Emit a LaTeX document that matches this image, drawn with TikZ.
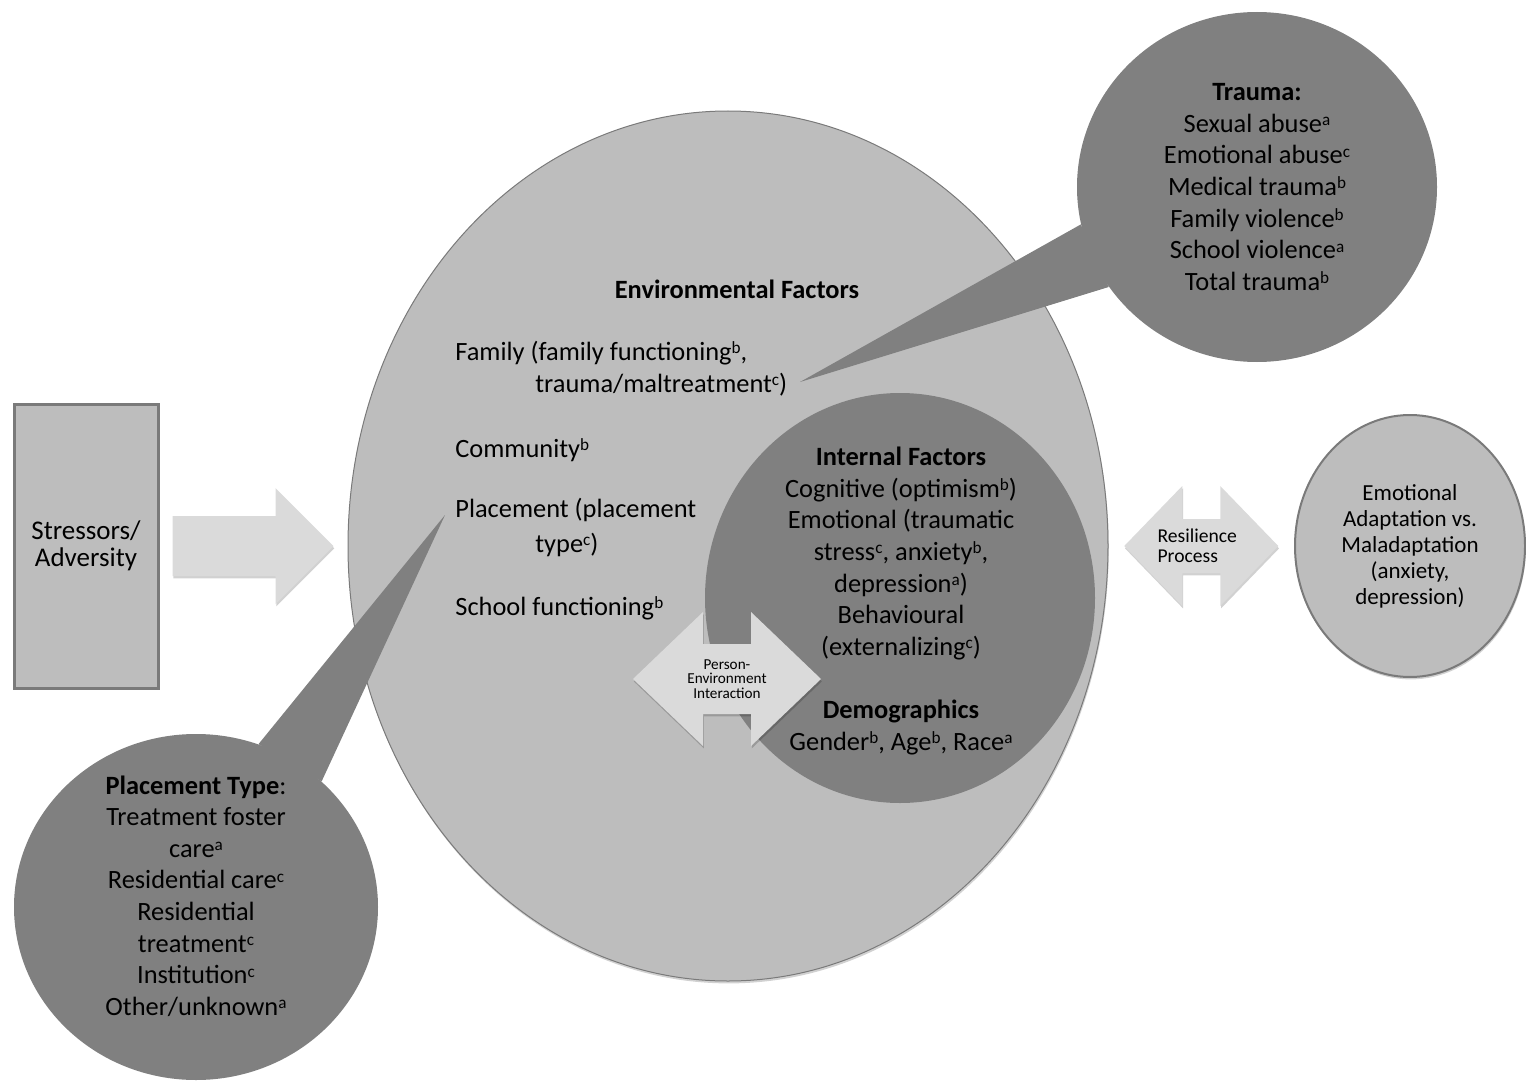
\documentclass[tikz,border=0pt]{standalone}
\usepackage{fontspec}
\setmainfont{Carlito}
\usepackage{graphicx}
\usepackage{tikz}
\usetikzlibrary{calc,positioning,shapes,shadows}
\definecolor{envgray}{RGB}{189,189,189}
\definecolor{deepgray}{RGB}{128,128,128}
\definecolor{arrowgray}{RGB}{218,218,218}
\definecolor{rimgray}{RGB}{122,122,122}
\newcommand\tsup[1]{\raisebox{0.25em}{\scalebox{0.65}{#1}}}

\begin{document}
\begin{tikzpicture}[% one unit = one pixel of the figure, y runs down
					x=0.5pt, y=-0.5pt,
					every node/.style={
						align=center,  		% so that "\\" breaks the lines
						inner sep=0pt,
						font=\fontsize{13.2pt}{15.8pt}\selectfont
						},
					softshadow/.style={drop shadow={shadow xshift=0.4pt, shadow yshift=-1.2pt, opacity=0.18, fill=black}},
					blob/.style={ellipse, fill=envgray, draw=rimgray},
					bubble/.style={ellipse, fill=deepgray},
					blockarrow/.style={fill=arrowgray, softshadow},
					item/.style={anchor=base west}
					]
\useasboundingbox (0,0) rectangle (1526,1081);

% left box and the big environment ellipse
\node[rectangle, fill=envgray, draw=rimgray, line width=1.5pt, minimum width=72pt, minimum height=142pt, softshadow, font=\fontsize{13.5pt}{13.5pt}\selectfont](stress) at (86,546){Stressors/\\Adversity};
\node[blob, line width=0.5pt, minimum width=380pt, minimum height=435pt, softshadow](env) at (728,546){};

% callout bubbles
\node[bubble, minimum width=180pt, minimum height=175pt](trauma) at (1257,187){\textbf{Trauma:}\\Sexual abuse\tsup{a}\\Emotional abuse\tsup{c}\\Medical trauma\tsup{b}\\Family violence\tsup{b}\\School violence\tsup{a}\\Total trauma\tsup{b}};
\node[bubble, minimum width=182pt, minimum height=173pt](place) at (196,907){};
\coordinate (traumatip) at (800,382);
\coordinate (placetip) at (445,515);
\fill[deepgray] (trauma.192) -- (traumatip) -- (trauma.214) -- cycle;
\fill[deepgray] (place.69) -- (placetip) -- (place.45) -- cycle;
\node(placetext) at (196,896){\textbf{Placement Type}:\\Treatment foster\\care\tsup{a}\\Residential care\tsup{c}\\Residential\\treatment\tsup{c}\\Institution\tsup{c}\\Other/unknown\tsup{a}};

% inner circle
\node[bubble, minimum width=195pt, minimum height=205pt](internal) at (900,598){};
\node(internaltext) at (901,601){\textbf{Internal Factors}\\Cognitive (optimism\tsup{b})\\Emotional (traumatic\\stress\tsup{c}, anxiety\tsup{b},\\depression\tsup{a})\\Behavioural\\(externalizing\tsup{c})\\[15.8pt]\textbf{Demographics}\\Gender\tsup{b}, Age\tsup{b}, Race\tsup{a}};

% environment items
\node[anchor=base](envtitle) at (737,298){\textbf{Environmental Factors}};
\node[item](family) at (455,360){Family (family functioning\tsup{b},};
\node[item](family2) at (535,392){trauma/maltreatment\tsup{c})};
\node[item](community) at (455,457){Community\tsup{b}};
\node[item](placement) at (455,517){Placement (placement};
\node[item](placement2) at (535,552){type\tsup{c})};
\node[item](school) at (455,615){School functioning\tsup{b}};

% outcome
\node[blob, line width=1pt, minimum width=115pt, minimum height=131pt, softshadow, font=\fontsize{11.5pt}{13pt}\selectfont](outcome) at (1410,546){Emotional\\Adaptation vs.\\Maladaptation\\(anxiety,\\depression)};

% block arrows
\coordinate (push) at ($(stress.east)!0.5!(env.west)$);
\coordinate (resil) at ($(env.east)!0.5!(outcome.west)$);
\coordinate (pe) at (727,679);
\fill[blockarrow, shift={(push)}] (-81,-30) -- (22,-30) -- (22,-58) -- (80,0) -- (22,58) -- (22,30) -- (-81,30) -- cycle;
\fill[blockarrow, shift={(resil)}] (-77,0) -- (-19,-60) -- (-19,-27) -- (19,-27) -- (19,-60) -- (77,0) -- (19,60) -- (19,27) -- (-19,27) -- (-19,60) -- cycle;
\fill[blockarrow, shift={(pe)}] (-94,0) -- (-24,-67) -- (-24,-35) -- (24,-35) -- (24,-67) -- (94,0) -- (24,67) -- (24,35) -- (-24,35) -- (-24,67) -- cycle;
\node[align=left, font=\fontsize{9.8pt}{10pt}\selectfont](resiltext) at ($(resil)+(-4,0)$){Resilience\\Process};
\node[font=\fontsize{7.6pt}{7.3pt}\selectfont](petext) at (pe){Person-\\Environment\\Interaction};
\end{tikzpicture}
\end{document}
